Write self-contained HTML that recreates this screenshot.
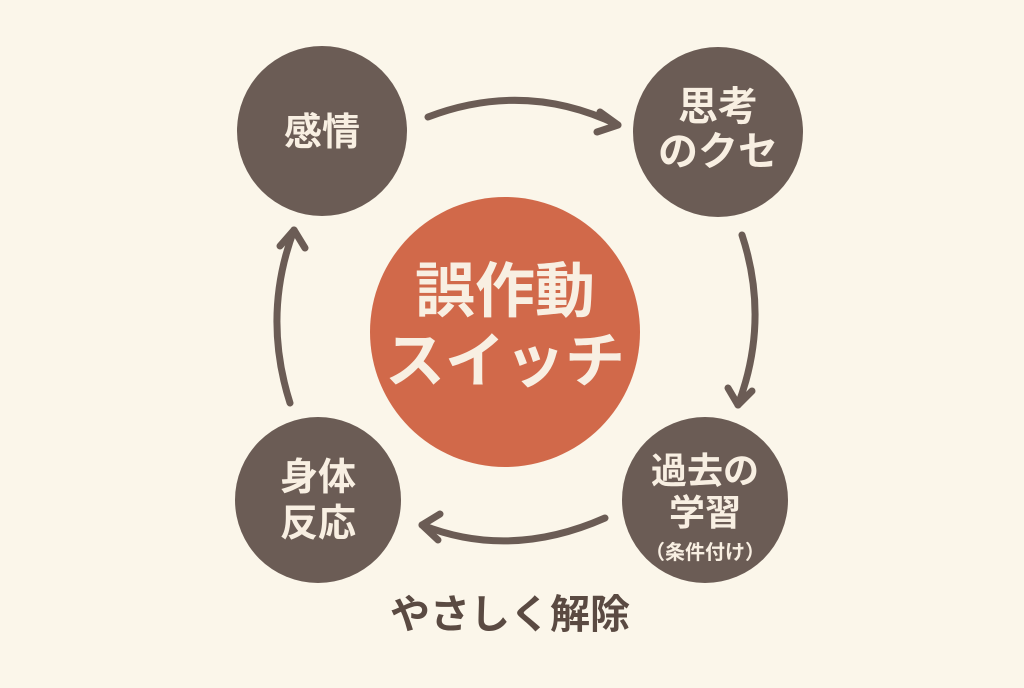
<!DOCTYPE html>
<html><head><meta charset="utf-8"><style>
html,body{margin:0;padding:0;}
body{width:1024px;height:683px;background:#fbf6ea;overflow:hidden;}
svg text{font-family:"Liberation Sans","Noto Sans CJK JP",sans-serif;font-weight:bold;}
</style></head><body>
<svg width="1024" height="683" viewBox="0 0 1024 683">
<defs>
<marker id="ah" markerWidth="10" markerHeight="10" refX="6" refY="5" orient="auto" markerUnits="userSpaceOnUse" viewBox="0 0 10 10">
</marker>
</defs>
<g fill="none" stroke="#6b5c55" stroke-width="7" stroke-linecap="round" stroke-linejoin="round">
<path d="M428 117 Q525 80 618 125"/>
<path d="M600 112 L618 125 L597 132"/>
<path d="M742 235 Q770 320 738 405"/>
<path d="M728 388 L738 405 L752 391"/>
<path d="M605 518 Q510 560 422 525"/>
<path d="M440 514 L422 525 L438 540"/>
<path d="M290 403 Q262 315 294 230"/>
<path d="M280 246 L294 230 L305 248"/>
</g>
<circle cx="505" cy="332" r="135" fill="#d1694a"/>
<circle cx="322" cy="131" r="85" fill="#6b5c55"/>
<circle cx="718" cy="132" r="85" fill="#6b5c55"/>
<circle cx="705" cy="500" r="83" fill="#6b5c55"/>
<circle cx="318" cy="500" r="83" fill="#6b5c55"/>
<g fill="#f8efe2" text-anchor="middle">
<text x="505" y="312" font-size="60">誤作動</text>
<text x="505" y="382" font-size="60">スイッチ</text>
<text x="322" y="145" font-size="38">感情</text>
<text x="718" y="120" font-size="40">思考</text>
<text x="718" y="165" font-size="40">のクセ</text>
<text x="705" y="483" font-size="36">過去の</text>
<text x="705" y="525" font-size="36">学習</text>
<text x="705" y="559" font-size="20">（条件付け）</text>
<text x="318" y="490" font-size="38">身体</text>
<text x="318" y="536" font-size="38">反応</text>
</g>
<text x="510" y="628" font-size="40" fill="#5a4a42" text-anchor="middle">やさしく解除</text>
</svg>
</body></html>
